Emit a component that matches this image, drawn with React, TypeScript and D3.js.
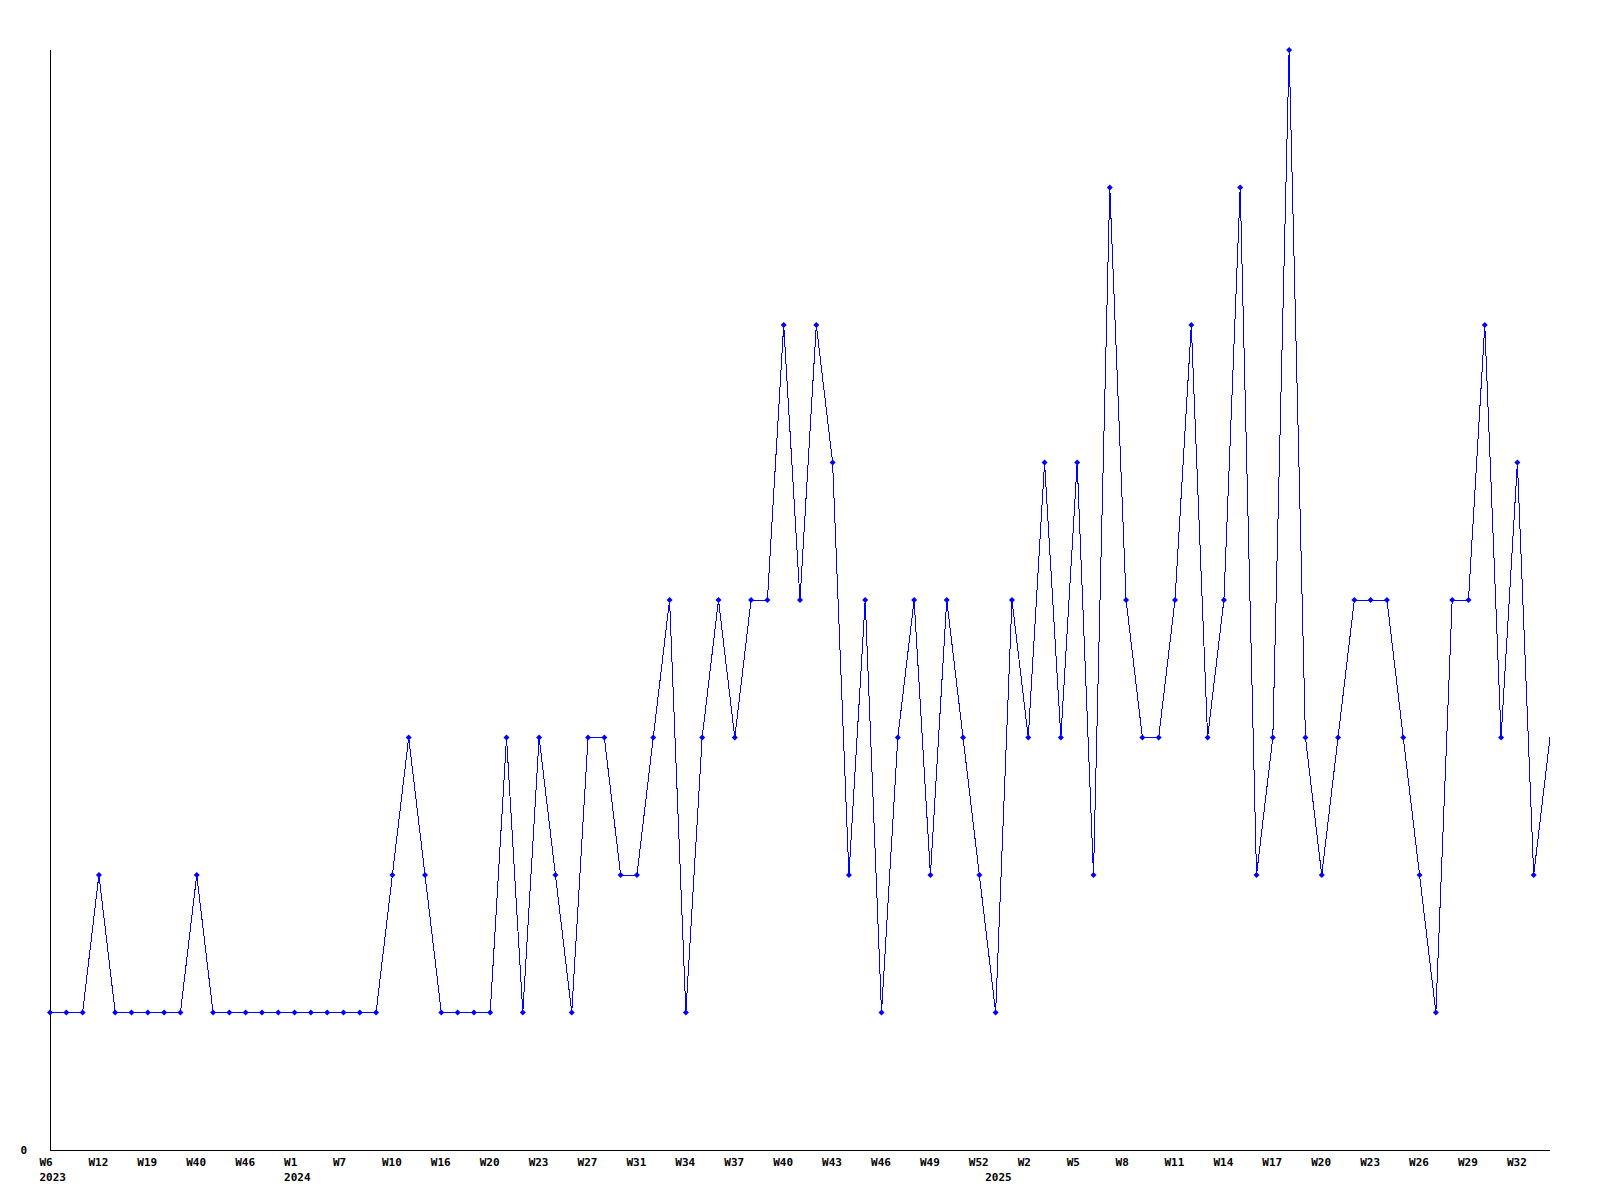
import React from "react";
import * as d3 from "d3";

// Week labels per data point (only every third one is shown on the axis)
const weeks: string[] = [
  "W6", "W7", "W8", "W12", "W13", "W15", "W19", "W22", "W30", "W40", "W41", "W44", "W46", "W48", "W50",
  "W1", "W3", "W5", "W7", "W8", "W9", "W10", "W11", "W13", "W16", "W17", "W18", "W20", "W21", "W22",
  "W23", "W24", "W26", "W27", "W28", "W30", "W31", "W32", "W33", "W34", "W35", "W36", "W37", "W38", "W39",
  "W40", "W41", "W42", "W43", "W44", "W45", "W46", "W47", "W48", "W49", "W50", "W51", "W52",
  "W0", "W1", "W2", "W3", "W4", "W5", "W6", "W7", "W8", "W9", "W10", "W11", "W12", "W13", "W14", "W15",
  "W16", "W17", "W18", "W19", "W20", "W21", "W22", "W23", "W24", "W25", "W26", "W27", "W28", "W29", "W30",
  "W31", "W32", "W33", "W34",
];
const years: string[] = [
  ...Array(15).fill("2023"),
  ...Array(43).fill("2024"),
  ...Array(35).fill("2025"),
];
const values: number[] = [
  1, 1, 1, 2, 1, 1, 1, 1, 1, 2,
  1, 1, 1, 1, 1, 1, 1, 1, 1, 1,
  1, 2, 3, 2, 1, 1, 1, 1, 3, 1,
  3, 2, 1, 3, 3, 2, 2, 3, 4, 1,
  3, 4, 3, 4, 4, 6, 4, 6, 5, 2,
  4, 1, 3, 4, 2, 4, 3, 2, 1, 4,
  3, 5, 3, 5, 2, 7, 4, 3, 3, 4,
  6, 3, 4, 7, 2, 3, 8, 3, 2, 3,
  4, 4, 4, 3, 2, 1, 4, 4, 6, 3,
  5, 2, 3,
];
const yTickLabels: number[] = [0];
const labelEvery = 3;

const W = 1600;
const H = 1200;
const left = 50;
const right = 1550;
const top = 50;
const bottom = 1150;
const FONT = "'DejaVu Sans Mono', 'Liberation Mono', monospace";

export default function App() {
  const idx = d3.range(values.length);
  const x = d3.scaleLinear().domain([0, values.length - 1]).range([left, right]);
  const y = d3.scaleLinear().domain([0, d3.max(values) as number]).range([bottom, top]);

  const line = d3
    .line<number>()
    .x((_, i) => x(i))
    .y((d) => y(d));

  const diamond = (cx: number, cy: number, r: number) =>
    `M${cx},${cy - r}L${cx + r},${cy}L${cx},${cy + r}L${cx - r},${cy}Z`;

  return (
    <svg
      width={W}
      height={H}
      style={{ position: "absolute", left: 0, top: 0, background: "#fff" }}
    >
      <rect x={0} y={0} width={W} height={H} fill="#fff" />
      {/* axes */}
      <line x1={left + 0.5} y1={top} x2={left + 0.5} y2={bottom + 0.5} stroke="#000" strokeWidth={1} shapeRendering="crispEdges" />
      <line x1={left} y1={bottom + 0.5} x2={right} y2={bottom + 0.5} stroke="#000" strokeWidth={1} shapeRendering="crispEdges" />

      {yTickLabels.map((t) => (
        <text
          key={"y" + t}
          x={27}
          y={y(t) + 4}
          textAnchor="end"
          fontFamily={FONT}
          fontWeight="bold"
          fontSize={11}
          fill="#000"
        >
          {t}
        </text>
      ))}

      {idx
        .filter((i) => i % labelEvery === 0)
        .map((i) => (
          <text
            key={"xl" + i}
            x={x(i) - 10.5}
            y={1166}
            fontFamily={FONT}
            fontWeight="bold"
            fontSize={11}
            fill="#000"
          >
            {weeks[i]}
          </text>
        ))}
      {idx
        .filter((i) => i === 0 || years[i] !== years[i - 1])
        .map((i) => (
          <text
            key={"yr" + i}
            x={x(i) - 10.5}
            y={1181}
            fontFamily={FONT}
            fontWeight="bold"
            fontSize={11}
            fill="#000"
          >
            {years[i]}
          </text>
        ))}

      <path d={line(values) || ""} fill="none" stroke="#0000ff" strokeWidth={1} shapeRendering="crispEdges" />
      {values.slice(0, -1).map((v, i) => (
        <path key={"m" + i} d={diamond(x(i), y(v), 3)} fill="#0000ff" stroke="none" />
      ))}
    </svg>
  );
}
